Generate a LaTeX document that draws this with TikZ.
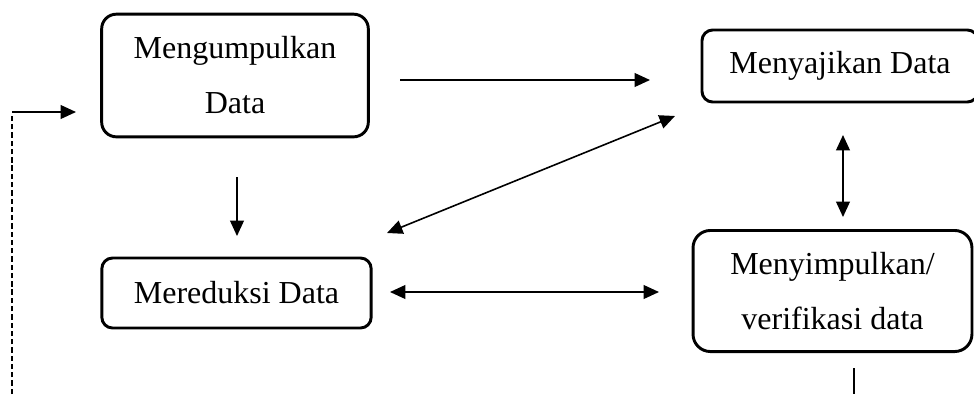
\documentclass[tikz,border=0pt]{standalone}
\usepackage{fontspec}
\setmainfont{Liberation Serif}
\usetikzlibrary{arrows.meta,positioning}

\begin{document}
\begin{tikzpicture}[x=0.375pt,y=-0.375pt,
    proses/.style={draw, line width=1.1pt, align=center, inner sep=0pt,
        font=\fontsize{12}{20.6}\selectfont},
    panah/.style={line width=0.6pt, >={Triangle[length=5.8pt,width=5.2pt]}}]
\useasboundingbox (0,0) rectangle (974,394);

% kotak-kotak
\node[proses, rounded corners=5.5pt, minimum width=100pt, minimum height=46pt] (kumpul) at (235,75.5) {Mengumpulkan\\Data};
\node[proses, rounded corners=4pt, minimum width=103.5pt, minimum height=27pt] (saji) at (840,66) {Menyajikan Data};
\node[proses, rounded corners=4pt, minimum width=101pt, minimum height=26.25pt] (reduksi) at (236.5,293) {Mereduksi Data};
\node[proses, rounded corners=6.5pt, minimum width=104.6pt, minimum height=45.4pt] (simpul) at (832.5,291) {Menyimpulkan/\\verifikasi data};

% ujung panah
\foreach \n/\x/\y in {a1/400/80, b1/650/80, a2/387/233, b2/675/116,
        a3/237/177, b3/237/236, a4/843/135, b4/843/217,
        a5/390/292, b5/659/292, a6/12/394, b6/12/112, c6/76/112,
        a7/854/368, b7/854/394}
    \coordinate (\n) at (\x,\y);

\foreach \i in {1,3}
    \draw[panah,->] (a\i) -- (b\i);
\foreach \i in {2,4,5}
    \draw[panah,<->] (a\i) -- (b\i);

% umpan balik
\draw[panah, dash pattern=on 2pt off 1.1pt] (a6) -- ([yshift=-1pt]b6);
\draw[panah,->] (b6) -- (c6);
\draw[panah] (a7) -- (b7);
\end{tikzpicture}
\end{document}
